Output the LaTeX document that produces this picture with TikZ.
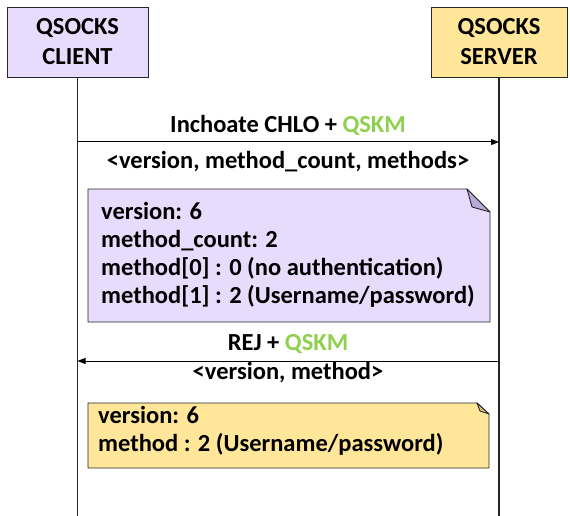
\documentclass[tikz,border=0pt]{standalone}
\usepackage{fontspec}
\setmainfont{Carlito}
\usetikzlibrary{arrows.meta}
\definecolor{lav}{HTML}{E8DCFC}
\definecolor{lavd}{HTML}{B9A9D9}
\definecolor{gold}{HTML}{FFE699}
\definecolor{goldd}{HTML}{D9C27A}
\definecolor{qgreen}{HTML}{8FD14F}
\tikzset{
  actor/.style={draw=black!85, line width=0.9pt, minimum width=141pt, minimum height=70pt, inner sep=0pt, align=center, font=\fontsize{24.5}{30}\selectfont\bfseries},
  life/.style={draw=black!85, line width=1.3pt},
  msg/.style={draw=black, line width=1pt, -{Triangle[length=8pt,width=6pt]}},
  lbl/.style={font=\fontsize{24.5}{28}\selectfont\bfseries, inner sep=0pt},
  notetext/.style={font=\fontsize{24.5}{28}\selectfont\bfseries, inner sep=0pt, align=left, anchor=west},
  notebody/.style={draw=black!85, line width=0.9pt},
}
\begin{document}
\begin{tikzpicture}[x=1pt,y=-1pt]
\useasboundingbox (0,0) rectangle (570,516);
% actors
\node[actor, fill=lav] (client) at (77.5,42) {QSOCKS\\CLIENT};
\node[actor, fill=gold, minimum width=136pt] (server) at (499,42) {QSOCKS\\SERVER};
\coordinate (cend) at (77.5,516);
\coordinate (send) at (499,516);
\draw[life] (client.south) -- (cend);
\draw[life] (server.south) -- (send);
% message 1
\coordinate (m1a) at (77.5,142);
\coordinate (m1b) at (499,142);
\draw[msg] (m1a) -- (m1b);
\node[lbl] (m1t) at (288,125) {Inchoate CHLO + \textcolor{qgreen}{QSKM}};
\node[lbl] (m1s) at (288,162) {<version, method\_count, methods>};
% note 1
\draw[notebody, fill=lav] (88,189) -- (467,189) -- (490,212) -- (490,322) -- (88,322) -- cycle;
\draw[notebody, fill=lavd, line join=round] (467,189) -- (472,207) -- (490,212) -- cycle;
\node[notetext] (n1) at (101,255) {version: 6\\method\_count: 2\\method[0] : 0 (no authentication)\\method[1] : 2 (Username/password)};
% message 2
\coordinate (m2a) at (499,361);
\coordinate (m2b) at (77.5,361);
\draw[msg] (m2a) -- (m2b);
\node[lbl] (m2t) at (288,344) {REJ + \textcolor{qgreen}{QSKM}};
\node[lbl] (m2s) at (288,373) {<version, method>};
% note 2
\draw[notebody, fill=gold] (88,403) -- (477,403) -- (489,414) -- (489,468) -- (88,468) -- cycle;
\draw[notebody, fill=goldd, line join=round] (477,403) -- (480,411) -- (489,414) -- cycle;
\node[notetext] (n2) at (98,431) {version: 6\\method : 2 (Username/password)};
\end{tikzpicture}
\end{document}
